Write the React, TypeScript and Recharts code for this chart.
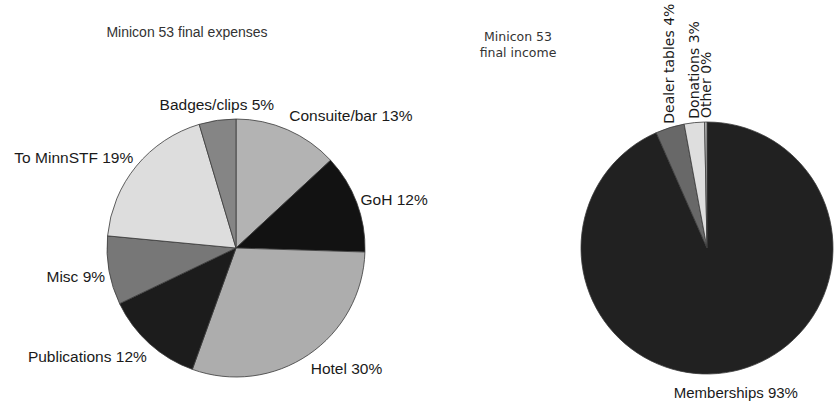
import React from "react";
import { PieChart, Pie, Cell } from "recharts";

const expenseNames = ["Consuite/bar", "GoH", "Hotel", "Publications", "Misc", "To MinnSTF", "Badges/clips"];
const expenseValues = [13.1, 12.4, 30.0, 12.4, 8.6, 18.9, 4.6];
const expenseColors = ["#b3b3b3", "#121212", "#adadad", "#1c1c1c", "#777777", "#dddddd", "#858585"];

const incomeNames = ["Memberships", "Dealer tables", "Donations", "Other"];
const incomeValues = [93.4, 3.7, 2.6, 0.3];
const incomeColors = ["#212121", "#686868", "#dedede", "#bdbdbd"];

const expenseData = expenseNames.map((name, i) => ({ name, value: expenseValues[i] }));
const incomeData = incomeNames.map((name, i) => ({ name, value: incomeValues[i] }));

const RAD = Math.PI / 180;
const ARIAL = "'Liberation Sans', Arial, sans-serif";
const DEJAVU = "'DejaVu Sans', sans-serif";

const pctText = (name: string, percent: number) => `${name} ${Math.round(percent * 100)}%`;

const expenseLabel = (props: any) => {
  const { cx, cy, midAngle, outerRadius, name, percent } = props;
  const c = Math.cos(-midAngle * RAD);
  const s = Math.sin(-midAngle * RAD);
  const x = cx + (outerRadius + 4) * c;
  const y = cy + (outerRadius + 14) * s + s * 2 + Math.max(0, 1 - Math.abs(s)) * 4;
  const anchor = c > 0.2 ? "start" : c < -0.2 ? "end" : "middle";
  return (
    <text x={x} y={y} textAnchor={anchor} dominantBaseline="central" fill="#1a1a1a" fontSize={15.5} fontFamily={ARIAL}>
      {pctText(name, percent)}
    </text>
  );
};

const incomeLabel = (props: any) => {
  const { cx, cy, midAngle, outerRadius, name, percent } = props;
  const c = Math.cos(-midAngle * RAD);
  const s = Math.sin(-midAngle * RAD);
  // clockwise angle from 12 o'clock
  const cw = ((90 - midAngle) % 360 + 360) % 360;
  if (cw > 320) {
    const r = outerRadius + 4;
    const x = cx + r * c;
    const y = cy + r * s;
    return (
      <text x={x} y={y} transform={`rotate(-90, ${x}, ${y})`} textAnchor="start" dominantBaseline="central" fill="#1a1a1a" fontSize={14} fontFamily={DEJAVU}>
        {pctText(name, percent)}
      </text>
    );
  }
  const x = cx + (outerRadius + 14) * c;
  const y = cy + (outerRadius + 19) * s + s * 3;
  return (
    <text x={x} y={y} textAnchor="middle" dominantBaseline="central" fill="#1a1a1a" fontSize={15} fontFamily={ARIAL}>
      {pctText(name, percent)}
    </text>
  );
};

export default function App() {
  return (
    <div style={{ position: "absolute", left: 0, top: 0, width: 835, height: 402, background: "#ffffff" }}>
      <div style={{ position: "absolute", left: 187, top: 32, transform: "translate(-50%, -50%)", fontFamily: ARIAL, fontSize: 14, color: "#333", whiteSpace: "nowrap" }}>
        Minicon 53 final expenses
      </div>
      <div style={{ position: "absolute", left: 518, top: 45, transform: "translate(-50%, -50%)", fontFamily: DEJAVU, fontSize: 12.5, lineHeight: "16px", color: "#333", textAlign: "center", whiteSpace: "nowrap" }}>
        Minicon 53<br />final income
      </div>
      <PieChart width={835} height={402} margin={{ top: 0, right: 0, bottom: 0, left: 0 }} style={{ position: "absolute", left: 0, top: 0 }}>
        <Pie
          data={expenseData}
          dataKey="value"
          nameKey="name"
          cx={236}
          cy={248}
          outerRadius={129}
          startAngle={90}
          endAngle={-270}
          stroke="#3a3a3a"
          strokeWidth={0.8}
          label={expenseLabel}
          labelLine={false}
          isAnimationActive={false}
        >
          {expenseData.map((d, i) => (
            <Cell key={d.name} fill={expenseColors[i]} />
          ))}
        </Pie>
        <Pie
          data={incomeData}
          dataKey="value"
          nameKey="name"
          cx={707}
          cy={248}
          outerRadius={126}
          startAngle={90}
          endAngle={-270}
          stroke="#3a3a3a"
          strokeWidth={0.8}
          label={incomeLabel}
          labelLine={false}
          isAnimationActive={false}
        >
          {incomeData.map((d, i) => (
            <Cell key={d.name} fill={incomeColors[i]} />
          ))}
        </Pie>
      </PieChart>
    </div>
  );
}
